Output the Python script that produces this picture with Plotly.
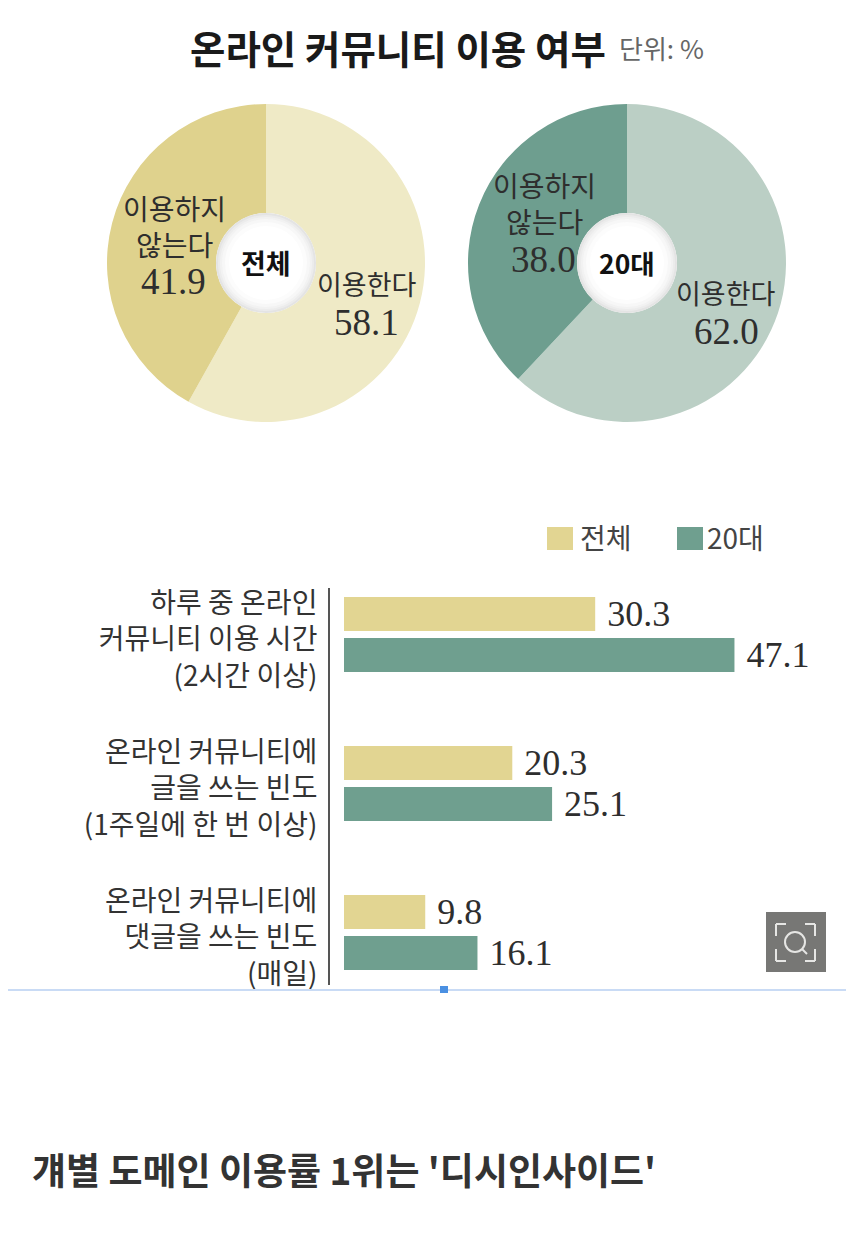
import plotly.graph_objects as go

W, H = 850, 1238
KR = "Noto Sans CJK KR"
SERIF = "Liberation Serif"

# ---- data ----
pie_labels = ["이용한다", "이용하지 않는다"]
pie_total = [58.1, 41.9]
pie_20s = [62.0, 38.0]
categories = ["하루 중 온라인<br>커뮤니티 이용 시간<br>(2시간 이상)",
              "온라인 커뮤니티에<br>글을 쓰는 빈도<br>(1주일에 한 번 이상)",
              "온라인 커뮤니티에<br>댓글을 쓰는 빈도<br>(매일)"]
bar_total = [30.3, 20.3, 9.8]
bar_20s = [47.1, 25.1, 16.1]
series_names = ["전체", "20대"]

YELLOW_L, YELLOW_D = "#EFEAC6", "#DFD28D"
GREEN_L, GREEN_D = "#BBCFC5", "#6E9E8F"
TEXT = "#2e2e2e"


def px(x):
    return x / W


def py(y):
    return 1 - y / H


fig = go.Figure()


def pie(values, colors, cx, cy, r, name):
    fig.add_trace(go.Pie(
        labels=pie_labels, values=values, name=name, sort=False, direction="clockwise",
        rotation=0, hole=50 / r, textinfo="none", showlegend=False,
        marker=dict(colors=colors, line=dict(width=0)),
        domain=dict(x=[px(cx - r), px(cx + r)], y=[py(cy + r), py(cy - r)]),
    ))


pie(pie_total, [YELLOW_L, YELLOW_D], 266, 263, 159, "전체")
pie(pie_20s, [GREEN_L, GREEN_D], 627, 263, 159, "20대")

for vals, name, col in ((bar_total, series_names[0], "#E2D592"), (bar_20s, series_names[1], "#6F9F8F")):
    fig.add_trace(go.Bar(
        y=categories, x=vals, name=name, orientation="h",
        marker=dict(color=col, line=dict(width=0)),
        text=vals, texttemplate="\u00a0%{x:.1f}", textposition="outside", cliponaxis=False,
        constraintext="none",
        textfont=dict(family=SERIF, size=36, color=TEXT), showlegend=False,
    ))

shapes = []
annotations = []


def note(text, x, y, size=27, family=KR, color=TEXT, anchor="center"):
    annotations.append(dict(text=text, x=px(x), y=py(y), xref="paper", yref="paper",
                            showarrow=False, xanchor=anchor, yanchor="middle",
                            font=dict(family=family, size=size, color=color)))


def circle(cx, cy, r, **kw):
    shapes.append(dict(type="circle", xref="paper", yref="paper",
                       x0=px(cx - r), x1=px(cx + r), y0=py(cy + r), y1=py(cy - r), **kw))


def rect(x0, y0, x1, y1, color):
    shapes.append(dict(type="rect", xref="paper", yref="paper", x0=px(x0), x1=px(x1),
                       y0=py(y1), y1=py(y0), fillcolor=color, line=dict(width=0)))


def seg(x0, y0, x1, y1, color, width):
    shapes.append(dict(type="line", xref="paper", yref="paper", x0=px(x0), x1=px(x1),
                       y0=py(y0), y1=py(y1), line=dict(color=color, width=width)))


# soft shadow inside the donut holes
for cx in (266, 627):
    for r, fill in ((50, "#e4e4e4"), (48, "#ececec"), (46, "#f2f2f2"), (44, "#f7f7f7"), (41, "#fcfcfc"), (37, "#ffffff")):
        circle(cx, 263, r, fillcolor=fill, line=dict(width=0))

# pie labels
note("이용하지<br>않는다", 174, 226, 28)
note("41.9", 173, 281, 37, SERIF)
note("이용한다", 367, 284)
note("58.1", 366, 322, 37, SERIF)
note("<b>전체</b>", 266, 262, 27, color="#111111")
note("이용하지<br>않는다", 544, 203, 28)
note("38.0", 543, 259, 37, SERIF)
note("이용한다", 726, 292)
note("62.0", 726, 331, 37, SERIF)
note("<b>20대</b>", 627, 262, 26.5, color="#111111")

# heading
note("<b>온라인 커뮤니티 이용 여부</b>", 188, 47, 38.5, color="#1a1a1a", anchor="left")
note("단위: %", 617, 48, 26, color="#666666", anchor="left")

# legend
rect(547, 527, 573, 550, "#E2D592")
note(series_names[0], 578, 537, 28, color="#444444", anchor="left")
rect(677, 527, 703, 550, "#6F9F8F")
note(series_names[1], 705, 537, 28, color="#444444", anchor="left")

# footer rule
seg(8, 990, 846, 990, "#C9DBF5", 2)
rect(440, 986, 448, 993, "#4A90E2")

# magnifier button
rect(766, 912, 826, 972, "#777775")
G = "#E6E6E4"
for x0, x1, y0, y1 in ((776, 786, 924, 924), (776, 776, 924, 936), (805, 815, 924, 924), (815, 815, 924, 936),
                       (776, 786, 961, 961), (776, 776, 949, 961), (805, 815, 961, 961), (815, 815, 949, 961)):
    seg(x0, y0, x1, y1, G, 2)
circle(795, 942, 10, line=dict(color=G, width=2), fillcolor="rgba(0,0,0,0)")
seg(802, 949, 807, 954, G, 2)

# sub-headline
note("<b>걔별 도메인 이용률 1위는 '디시인사이드'</b>", 30, 1169, 37, color="#333333", anchor="left")

fig.update_layout(
    width=W, height=H, margin=dict(l=0, r=0, t=0, b=0),
    paper_bgcolor="white", plot_bgcolor="white",
    font=dict(family=KR, color=TEXT),
    barmode="group", bargap=0.45, bargroupgap=0.17,
    shapes=shapes, annotations=annotations,
    xaxis=dict(domain=[px(330), px(841)], range=[-14 / 8.29, 497 / 8.29], visible=False, fixedrange=True),
    yaxis=dict(domain=[py(985), py(588)], range=[2 + (985 - 932.5) / 149, (588 - 634.5) / 149],
               showline=True, linecolor="#555555", linewidth=2, showgrid=False, ticks="",
               tickfont=dict(family=KR, size=28, color="#333333"), ticklabelstandoff=5, ticklabelshift=-5,
               zeroline=False, fixedrange=True, automargin=False),
)

fig.write_html("out.html", config=dict(displayModeBar=False),
               post_script="document.body.style.margin='0';document.documentElement.style.overflow='hidden';")
